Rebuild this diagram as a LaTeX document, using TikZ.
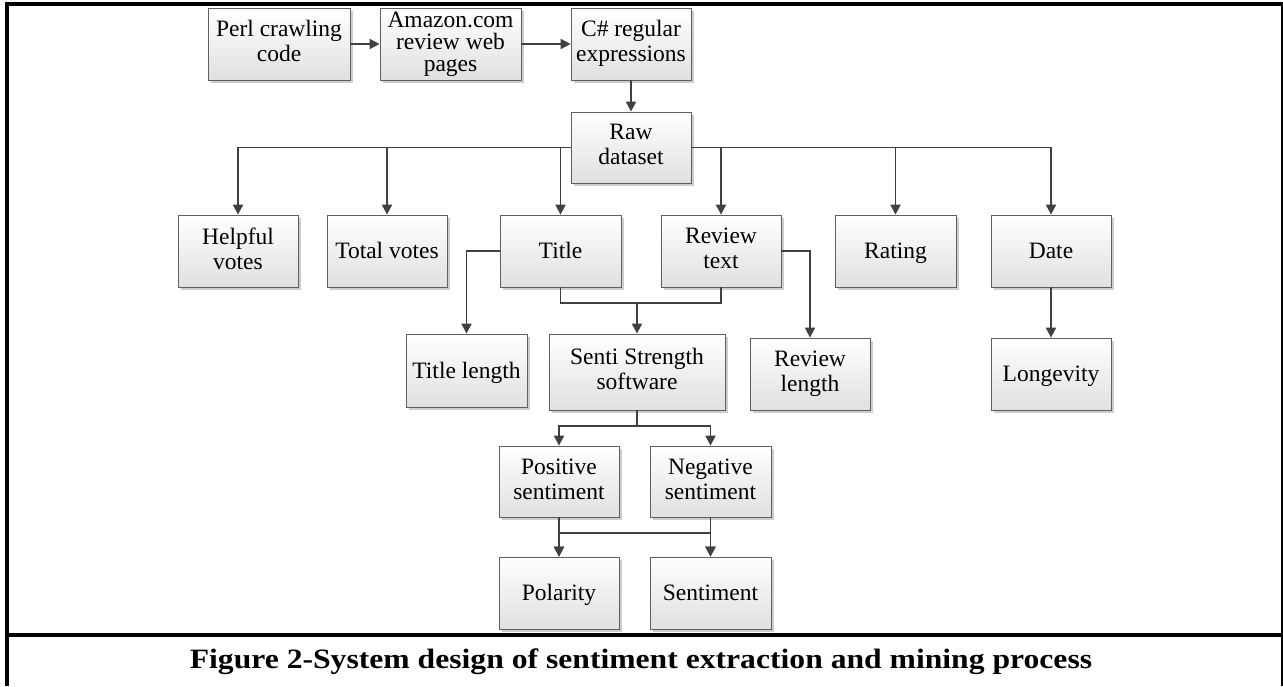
\documentclass[tikz,border=0pt]{standalone}
\usepackage{fontspec}
\setmainfont{Liberation Serif}
\newfontfamily\capfont[FakeStretch=1.13]{Liberation Serif}
\usepackage{tikz}
\usetikzlibrary{arrows.meta,positioning,shadows}
\definecolor{boxline}{RGB}{95,95,95}
\definecolor{wireline}{RGB}{64,64,64}
\definecolor{boxbottom}{RGB}{224,224,224}
\definecolor{boxshadow}{RGB}{205,205,205}
\newcommand{\upstrut}{\vrule height 20.5pt depth 0pt width 0pt}
\newcommand{\downstrut}{\vrule height 0pt depth 5.5pt width 0pt}

\begin{document}
\begin{tikzpicture}[x=1pt,y=-1pt,
    stage/.style={draw=boxline, line width=0.8pt, top color=white, bottom color=boxbottom,
        drop shadow={shadow xshift=2.5pt,shadow yshift=-2.5pt,fill=boxshadow,opacity=1},
        minimum width=120pt, minimum height=72pt, align=center, inner sep=0pt,
        execute at begin node=\upstrut, execute at end node=\downstrut,
        font=\fontsize{23.5}{25}\selectfont},
    wire/.style={wireline, line width=1.9pt, -{Triangle[length=10pt,width=10pt]}},
    link/.style={wireline, line width=1.9pt}]
    \useasboundingbox (0,0) rectangle (1283,686);

    % Frame of the figure cell
    \draw[line width=4pt] (7,686) -- (7,4) -- (1283,4);
    \draw[line width=3.5pt] (7,635) -- (1283,635);
    \draw[line width=2pt] (1282,4) -- (1282,686);

    % Crawling and parsing
    \node[stage, minimum width=142pt] (perl) at (279,44) {Perl crawling\\code};
    \node[stage, minimum width=141pt, font=\fontsize{23.5}{22}\selectfont] (amazon) at (450.5,44) {Amazon.com\\review web\\pages};
    \node[stage] (csharp) at (631,44) {C\# regular\\expressions};
    \node[stage, minimum height=71pt] (raw) at (631,147.5) {Raw\\dataset};

    % Extracted fields
    \node[stage] (helpful) at (238,251) {Helpful\\votes};
    \node[stage] (total) at (387,251) {Total votes};
    \node[stage, minimum width=121pt] (title) at (560.5,251) {Title};
    \node[stage] (review) at (721,251) {Review\\text};
    \node[stage, minimum width=121pt] (rating) at (895.5,251) {Rating};
    \node[stage] (date) at (1051,251) {Date};

    % Derived variables
    \node[stage, minimum width=121pt, minimum height=73pt] (titlelen) at (466.5,370.5) {Title length};
    \node[stage, minimum width=176pt, minimum height=76pt] (senti) at (637,372) {Senti Strength\\software};
    \node[stage] (reviewlen) at (810,374) {Review\\length};
    \node[stage] (longevity) at (1051,374) {Longevity};

    % Sentiment scores
    \node[stage, minimum height=71pt] (pos) at (559,481.5) {Positive\\sentiment};
    \node[stage, minimum width=121pt, minimum height=71pt] (neg) at (710.5,481.5) {Negative\\sentiment};
    \node[stage] (pol) at (559,593) {Polarity};
    \node[stage, minimum width=121pt] (sent) at (710.5,593) {Sentiment};

    \node[anchor=base, font=\capfont\fontsize{28}{32}\selectfont\bfseries] (caption) at (641,668)
        {Figure 2-System design of sentiment extraction and mining process};

    % Connectors
    \draw[wire] (perl) -- (amazon);
    \draw[wire] (amazon) -- (csharp);
    \draw[wire] (csharp) -- (raw);
    \foreach \leaf in {helpful,total,title}
        \draw[wire] (raw.west) -| (\leaf.north);
    \foreach \leaf in {review,rating,date}
        \draw[wire] (raw.east) -| (\leaf.north);

    \draw[wire] (title.west) -| (titlelen.north);
    \draw[wire] (review.east) -| (reviewlen.north);
    \draw[wire] (date) -- (longevity);
    \coordinate (merge) at (637,303);
    \draw[link] (title.south) |- (merge) -| (review.south);
    \draw[wire] (merge) -- (senti.north);

    \coordinate (split) at (637,426);
    \draw[link] (senti.south) -- (split);
    \draw[wire] (split) -| (pos.north);
    \draw[wire] (split) -| (neg.north);
    \foreach \from in {pos,neg}
        \foreach \to in {pol,sent}
            \draw[wire] (\from.south) -- ++(0,16) -| (\to.north);
\end{tikzpicture}
\end{document}
